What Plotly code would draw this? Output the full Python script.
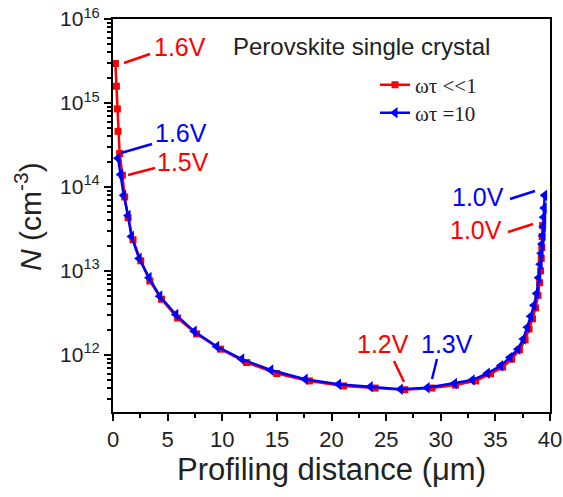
import plotly.graph_objects as go

# ---- data ----
red_x = [0.22, 0.31, 0.40, 0.46, 0.61, 0.86, 1.07, 1.38, 1.83, 2.54, 3.37, 4.44, 5.91, 7.65,
         9.85, 12.24, 14.99, 17.98, 21.1, 24.0, 26.7, 29.2, 31.35, 33.2, 34.56, 35.66, 36.49,
         37.2, 37.72, 38.08, 38.4, 38.67, 38.9, 39.05, 39.14, 39.2, 39.25, 39.28, 39.33]
red_N = [2.95e15, 1.58e15, 8.5e14, 4.6e14, 2.5e14, 1.38e14, 7.6e13, 4.3e13, 2.35e13, 1.32e13,
         7.6e12, 4.6e12, 2.75e12, 1.78e12, 1.17e12, 8.1e11, 6.0e11, 4.9e11, 4.27e11, 4.03e11,
         3.85e11, 4.03e11, 4.37e11, 4.9e11, 5.96e11, 7.16e11, 8.9e11, 1.15e12, 1.51e12, 2.04e12,
         2.69e12, 3.63e12, 5.13e12, 7.24e12, 1.0e13, 1.41e13, 1.9e13, 2.57e13, 3.47e13]

blue_x = [0.46, 0.70, 0.98, 1.38, 1.69, 2.39, 3.30, 4.28, 5.75, 7.43, 9.49, 11.78, 14.44, 17.59,
          20.64, 23.55, 26.30, 28.75, 31.25, 32.88, 34.26, 35.48, 36.33, 37.06, 37.56, 37.93,
          38.23, 38.53, 38.78, 38.96, 39.10, 39.19, 39.27, 39.33, 39.38, 39.42, 39.47, 39.51]
blue_N = [2.19e14, 1.41e14, 7.94e13, 4.57e13, 2.57e13, 1.41e13, 8.32e12, 5.01e12, 3.02e12,
          1.91e12, 1.26e12, 8.91e11, 6.61e11, 5.13e11, 4.47e11, 4.17e11, 3.89e11, 4.07e11,
          4.57e11, 5.01e11, 6.03e11, 7.41e11, 9.33e11, 1.17e12, 1.55e12, 2.14e12, 2.88e12,
          3.89e12, 5.37e12, 8.32e12, 1.2e13, 1.62e13, 2.09e13, 2.63e13, 3.39e13, 4.37e13,
          5.62e13, 7.94e13]

series_names = ["ωτ <<1", "ωτ =10"]
x_ticks = [0, 5, 10, 15, 20, 25, 30, 35, 40]
y_tick_vals = [1e12, 1e13, 1e14, 1e15, 1e16]
y_tick_text = ["10<sup>12</sup>", "10<sup>13</sup>", "10<sup>14</sup>", "10<sup>15</sup>", "10<sup>16</sup>"]

# ---- figure ----
W, H = 563, 497
L, R, T, B = 113, 13, 19, 85
pw, ph = W - L - R, H - T - B

def px(x):
    return (x - L) / pw

def py(y):
    return (H - B - y) / ph

fig = go.Figure()
fig.add_trace(go.Scatter(x=red_x, y=red_N, mode="lines+markers", name=series_names[0],
                         legend="legend",
                         line=dict(color="#ff0000", width=2.5),
                         marker=dict(symbol="square", size=7, color="#ff0000")))
fig.add_trace(go.Scatter(x=blue_x, y=blue_N, mode="lines+markers", name=series_names[1],
                         legend="legend2",
                         line=dict(color="#0000ff", width=2.5),
                         marker=dict(symbol="triangle-left", size=10, color="#0000ff")))

minor_y = [m * 10 ** e for e in range(11, 16) for m in range(2, 10)]
minor_y = [v for v in minor_y if v >= 2.1e11]

fig.update_xaxes(range=[0, 40], tickvals=x_ticks, ticks="outside", ticklen=7, tickwidth=2,
                 tickcolor="black", showline=True, linecolor="black", linewidth=2, mirror=True,
                 showgrid=False, zeroline=False, automargin=False, ticklabeloverflow="allow",
                 minor=dict(tickvals=[2.5, 7.5, 12.5, 17.5, 22.5, 27.5, 32.5, 37.5], ticks="outside",
                            ticklen=4, tickwidth=2, tickcolor="black"),
                 tickfont=dict(family="Liberation Sans, Arial", size=22, color="#222"),
                 title=dict(text="Profiling distance (μm)", standoff=4,
                            font=dict(family="Liberation Sans, Arial", size=31, color="#222")))
fig.update_yaxes(type="log", range=[11.32, 16], tickvals=y_tick_vals, ticktext=y_tick_text,
                 ticks="outside", ticklen=7, tickwidth=2, tickcolor="black",
                 showline=True, linecolor="black", linewidth=2, mirror=True,
                 showgrid=False, zeroline=False, automargin=False, ticklabeloverflow="allow",
                 minor=dict(tickvals=minor_y, ticks="outside", ticklen=4, tickwidth=1.5,
                            tickcolor="black"),
                 tickfont=dict(family="Liberation Sans, Arial", size=21, color="#222"))

# y-axis title placed like the reference
fig.add_annotation(x=px(28), y=py(217), xref="paper", yref="paper",
                   text="<i>N</i> (cm<sup>-3</sup>)", textangle=-90, showarrow=False,
                   xanchor="center", yanchor="middle",
                   font=dict(family="Liberation Sans, Arial", size=30, color="#222"))

# label texts and leader lines (pixel positions from the reference)
labels = [
    ("1.6V", "#ff0000", 180, 47, (124, 63, 150, 54)),
    ("1.6V", "#0000ff", 181, 133, (121, 153, 152, 144)),
    ("1.5V", "#ff0000", 183, 162, (128, 175, 155, 168)),
    ("1.0V", "#0000ff", 478, 197, (510, 199, 535, 191)),
    ("1.0V", "#ff0000", 476, 230, (508, 232, 533, 224)),
    ("1.2V", "#ff0000", 383, 344, (394, 361, 404, 382)),
    ("1.3V", "#0000ff", 447, 344, (437, 359, 432, 379)),
]
for txt, col, tx, ty, (x0, y0, x1, y1) in labels:
    fig.add_annotation(x=px(tx), y=py(ty), xref="paper", yref="paper", text=txt,
                       showarrow=False, xanchor="center", yanchor="middle",
                       font=dict(family="Liberation Sans, Arial", size=25, color=col))
    fig.add_shape(type="line", xref="paper", yref="paper", x0=px(x0), y0=py(y0),
                  x1=px(x1), y1=py(y1), line=dict(color=col, width=2.5))

fig.add_annotation(x=px(231), y=py(47), xref="paper", yref="paper",
                   text="Perovskite single crystal", showarrow=False,
                   xanchor="left", yanchor="middle",
                   font=dict(family="Liberation Sans, Arial", size=24, color="#222"))

legend_common = dict(xanchor="left", yanchor="middle", bgcolor="rgba(0,0,0,0)", borderwidth=0,
                     font=dict(family="Liberation Serif, Times New Roman", size=21, color="#222"))
fig.update_layout(
    width=W, height=H, margin=dict(l=L, r=R, t=T, b=B),
    paper_bgcolor="white", plot_bgcolor="white",
    showlegend=True,
    legend=dict(x=px(375), y=py(85), **legend_common),
    legend2=dict(x=px(375), y=py(113), **legend_common),
)

# remove the default page margin so the figure fills the window exactly
fig.write_html("out.html", config={"displayModeBar": False},
               post_script="document.body.style.margin='0';")
